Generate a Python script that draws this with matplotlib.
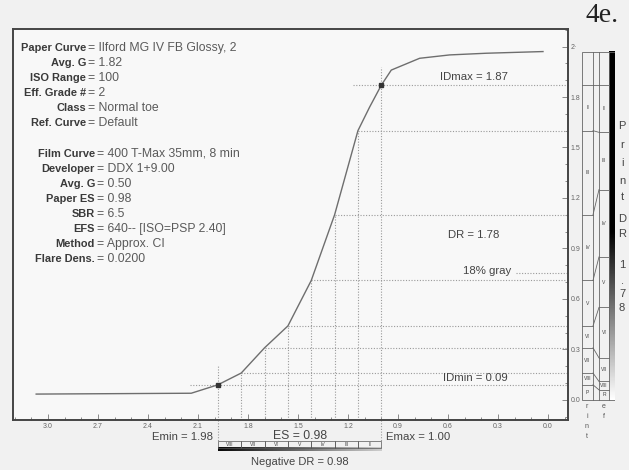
import numpy as np
import matplotlib
matplotlib.use('Agg')
import matplotlib.pyplot as plt
from matplotlib import transforms
from matplotlib.patches import Rectangle
from matplotlib.ticker import MultipleLocator

W, H = 629, 470

# paper curve: log exposure (reversed axis) vs print density
curve_logE = [3.07, 2.14, 1.98, 1.84, 1.70, 1.56, 1.42, 1.28, 1.14, 1.07, 1.00, 0.94, 0.77, 0.59, 0.37, 0.03]
curve_D = [0.035, 0.04, 0.09, 0.16, 0.31, 0.44, 0.71, 1.10, 1.60, 1.74, 1.87, 1.96, 2.03, 2.05, 2.06, 2.07]

# zone boundaries on the curve, Emin ... Emax
zone_logE = [1.98, 1.84, 1.70, 1.56, 1.42, 1.28, 1.14, 1.00]
zone_D = [0.09, 0.16, 0.31, 0.44, 0.71, 1.10, 1.60, 1.87]
neg_zones = ['VIII', 'VII', 'VI', 'V', 'IV', 'III', 'II']
gray18_D = 0.755

# zone scale at the right (print column and reference column)
print_edges = [0.0, 0.09, 0.16, 0.31, 0.44, 0.71, 1.10, 1.60, 1.87, 2.07]
print_names = ['P', 'VIII', 'VII', 'VI', 'V', 'IV', 'III', 'II', '']
ref_edges = [0.0, 0.06, 0.11, 0.25, 0.55, 0.85, 1.25, 1.59, 1.87, 2.07]
ref_names = ['R', 'VIII', 'VII', 'VI', 'V', 'IV', 'III', 'II', '']

xticks = [3.0, 2.7, 2.4, 2.1, 1.8, 1.5, 1.2, 0.9, 0.6, 0.3, 0.0]
xtick_labels = ['3.0', '2.7', '2.4', '2.1', '1.8', '1.5', '1.2', '0.9', '0.6', '0.3', '0.0']
yticks = [0.0, 0.3, 0.6, 0.9, 1.2, 1.5, 1.8, 2.1]
ytick_labels = ['0.0', '0.3', '0.6', '0.9', '1.2', '1.5', '1.8', '2\u00b7']

paper_labels = ['Paper Curve', 'Avg. G', 'ISO Range', 'Eff. Grade #', 'Class', 'Ref. Curve']
paper_values = ['Ilford MG IV FB Glossy, 2', '1.82', '100', '2', 'Normal toe', 'Default']
film_labels = ['Film Curve', 'Developer', 'Avg. G', 'Paper ES', 'SBR', 'EFS', 'Method', 'Flare Dens.']
film_values = ['400 T-Max 35mm, 8 min', 'DDX 1+9.00', '0.50', '0.98', '6.5', '640-- [ISO=PSP 2.40]',
               'Approx. CI', '0.0200']

plt.rcParams['font.family'] = ['Liberation Sans', 'DejaVu Sans']

fig = plt.figure(figsize=(W / 100, H / 100), dpi=100, facecolor='#f1f1f1')
pxt = transforms.Affine2D().scale(1 / W, -1 / H).translate(0, 1) + fig.transFigure


def px_axes(l, t, r, b):
    return fig.add_axes([l / W, 1 - b / H, (r - l) / W, (b - t) / H])


XLIM = (3.209, -0.12)
YLIM = (-0.119, 2.204)

ax = px_axes(13, 29, 568, 420)
ax.set_facecolor('#f8f8f8')
ax.set_xlim(XLIM)
ax.set_ylim(YLIM)
for s in ax.spines.values():
    s.set_color('#454545')
    s.set_linewidth(1.4)

ax.set_xticks(xticks)
ax.set_xticklabels(xtick_labels)
ax.xaxis.set_minor_locator(MultipleLocator(0.1))
ax.yaxis.tick_right()
ax.set_yticks(yticks)
ax.set_yticklabels(ytick_labels)
ax.yaxis.set_minor_locator(MultipleLocator(0.1))
ax.tick_params(which='both', direction='in', color='#777777', width=0.6,
               labelsize=5, labelcolor='#666666', pad=2)
ax.tick_params(which='major', length=4)
ax.tick_params(which='minor', length=2)

dot = dict(color='#9a9a9a', ls=(0, (1, 1.5)), lw=0.8)
# horizontal / vertical dotted lines through zone points
for k, (e, d) in enumerate(zip(zone_logE, zone_D)):
    x0 = e
    y1 = d
    if k == 0:
        x0, y1 = 2.15, 0.20
    if k == len(zone_logE) - 1:
        x0, y1 = 1.17, 1.98
    ax.plot([x0, XLIM[1]], [d, d], **dot)
    ax.plot([e, e], [YLIM[0], y1], **dot)
# Emin / Emax lines run on below the axis to the negative scale
for e in (zone_logE[0], zone_logE[-1]):
    ax.plot([e, e], [YLIM[0], -0.245], clip_on=False, **dot)
ax.plot([0.19, XLIM[1]], [gray18_D, gray18_D], **dot)

ax.plot(curve_logE, curve_D, color='#6e6e6e', lw=1.0)
ax.plot([zone_logE[0], zone_logE[-1]], [zone_D[0], zone_D[-1]], 's', color='#333333', ms=2.5)

ann = dict(fontsize=8.2, color='#444444', va='center')
ax.text(0.65, 1.92, 'IDmax = 1.87', **ann)
ax.text(0.60, 0.98, 'DR = 1.78', **ann)
ax.text(0.51, 0.765, '18% gray', **ann)
ax.text(0.63, 0.13, 'IDmin = 0.09', **ann)

# info block
for i, (lab, val) in enumerate(zip(paper_labels, paper_values)):
    y = 48 + 15 * i
    fig.text(86, y, lab, transform=pxt, ha='right', va='center', fontsize=7.9,
             fontweight='bold', color='#3a3a3a')
    fig.text(88, y, '= ' + val, transform=pxt, ha='left', va='center', fontsize=8.8, color='#5a5a5a')
for i, (lab, val) in enumerate(zip(film_labels, film_values)):
    y = 154 + 15 * i
    fig.text(95, y, lab, transform=pxt, ha='right', va='center', fontsize=7.9,
             fontweight='bold', color='#3a3a3a')
    fig.text(97, y, '= ' + val, transform=pxt, ha='left', va='center', fontsize=8.8, color='#5a5a5a')

# labels under the axis
bt = transforms.blended_transform_factory(ax.transData, pxt)
ax.text(zone_logE[0] + 0.03, 437, 'Emin = 1.98', transform=bt, ha='right', va='center',
        fontsize=8.2, color='#444444')
ax.text((zone_logE[0] + zone_logE[-1]) / 2, 436, 'ES = 0.98', transform=bt, ha='center',
        va='center', fontsize=8.8, color='#444444')
ax.text(zone_logE[-1] - 0.03, 437, 'Emax = 1.00', transform=bt, ha='left', va='center',
        fontsize=8.2, color='#444444')
ax.text((zone_logE[0] + zone_logE[-1]) / 2, 462, 'Negative DR = 0.98', transform=bt,
        ha='center', va='center', fontsize=8, color='#444444')

# negative zone strip
nax = px_axes(13, 441, 568, 451)
nax.axis('off')
nax.imshow(np.linspace(0, 1, 200)[None, :], cmap='gray', vmin=-0.05, vmax=1.25,
           extent=[zone_logE[0], zone_logE[-1], 0, 0.35], aspect='auto')
for k, name in enumerate(neg_zones):
    a, b = zone_logE[k], zone_logE[k + 1]
    nax.add_patch(Rectangle((b, 0.35), a - b, 0.65, fill=False, ec='#555555', lw=0.5))
    nax.text((a + b) / 2, 0.67, name, ha='center', va='center', fontsize=3.6, color='#444444')
nax.set_xlim(XLIM)
nax.set_ylim(0, 1)

# zone scale panel at the right
pax = px_axes(582, 29, 615, 420)
pax.axis('off')
pax.imshow(np.linspace(0, 2.07, 300)[:, None], cmap='gray_r', vmin=0, vmax=1.0, origin='lower',
           extent=[27, 33, 0, 2.07], aspect='auto')
pc = dict(color='#666666', lw=0.6)
pax.add_patch(Rectangle((0, 0), 33, 2.07, fill=False, ec='#666666', lw=0.6))
for xv in (11, 17, 27):
    pax.plot([xv, xv], [0, 2.07], **pc)
for k in range(1, len(print_edges) - 1):
    pax.plot([0, 11], [print_edges[k], print_edges[k]], **pc)
    pax.plot([17, 27], [ref_edges[k], ref_edges[k]], **pc)
    pax.plot([11, 17], [print_edges[k], ref_edges[k]], **pc)
for k in range(len(print_names)):
    pax.text(5.5, (print_edges[k] + print_edges[k + 1]) / 2, print_names[k], ha='center',
             va='center', fontsize=3.6, color='#444444')
    pax.text(22, (ref_edges[k] + ref_edges[k + 1]) / 2, ref_names[k], ha='center',
             va='center', fontsize=3.6, color='#444444')
pax.set_xlim(0, 33)
pax.set_ylim(YLIM)

for ch, y in zip('rint', [407, 417, 427, 436]):
    fig.text(587, y, ch, transform=pxt, ha='center', va='center', fontsize=5, color='#555555')
for ch, y in zip('ef', [407, 417]):
    fig.text(604, y, ch, transform=pxt, ha='center', va='center', fontsize=5, color='#555555')

side_chars = ['P', 'r', 'i', 'n', 't', 'D', 'R', '1', '.', '7', '8']
side_y = [126, 145, 163, 181, 197, 219, 234, 265, 281, 294, 308]
for ch, y in zip(side_chars, side_y):
    fig.text(622, y, ch, transform=pxt, ha='center', va='center', fontsize=8, color='#444444')

fig.text(602, 15, '4e.', transform=pxt, ha='center', va='center', fontsize=20,
         family=['Liberation Serif', 'DejaVu Serif'], color='#222222')

fig.savefig('out.png', dpi=100, facecolor=fig.get_facecolor())
